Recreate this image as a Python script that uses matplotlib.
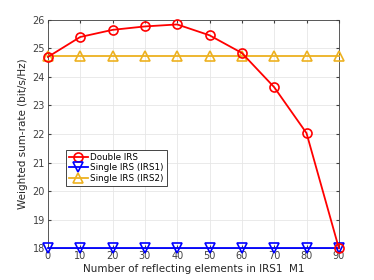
import matplotlib
matplotlib.use("Agg")
import matplotlib.pyplot as plt

m1 = [0, 10, 20, 30, 40, 50, 60, 70, 80, 90]
double_irs = [24.70, 25.40, 25.65, 25.77, 25.84, 25.46, 24.84, 23.64, 22.03, 18.00]
single_irs1 = [18.0] * 10
single_irs2 = [24.72] * 10

fig = plt.figure(figsize=(3.74, 2.8), dpi=100)
ax = fig.add_axes([0.128, 0.114, 0.778, 0.815])

ax.plot(m1, double_irs, color='red', marker='o', markersize=6.5, markerfacecolor='none',
        markeredgewidth=1.2, linewidth=1.3, label='Double IRS', clip_on=False, zorder=4)
ax.plot(m1, single_irs1, color='blue', marker='v', markersize=6.5, markerfacecolor='none',
        markeredgewidth=1.2, linewidth=1.3, label='Single IRS (IRS1)', clip_on=False, zorder=3)
ax.plot(m1, single_irs2, color='#EDB120', marker='^', markersize=6.5, markerfacecolor='none',
        markeredgewidth=1.2, linewidth=1.3, label='Single IRS (IRS2)', clip_on=False, zorder=3)

ax.set_xlim(0, 90)
ax.set_ylim(18, 26)
ax.set_xticks(m1)
ax.set_yticks(range(18, 27))
ax.grid(True, color='#e6e6e6', linewidth=0.6)
ax.set_axisbelow(True)
ax.tick_params(direction='in', top=True, right=True, labelsize=7, length=2.5,
               colors='#404040', pad=2)
for s in ax.spines.values():
    s.set_color('#404040')
    s.set_linewidth(0.6)

ax.set_xlabel('Number of reflecting elements in IRS1  M1', fontsize=7.5, color='#262626', labelpad=2)
ax.set_ylabel('Weighted sum-rate (bit/s/Hz)', fontsize=7.5, color='#262626', labelpad=3)

leg = ax.legend(loc='upper left', bbox_to_anchor=(0.062, 0.43), fontsize=6.3,
                fancybox=False, framealpha=1, edgecolor='#262626', borderpad=0.3,
                labelspacing=0.2, handlelength=2.2, handletextpad=0.3, borderaxespad=0)
leg.get_frame().set_linewidth(0.6)

fig.savefig('out.png', dpi=100)
